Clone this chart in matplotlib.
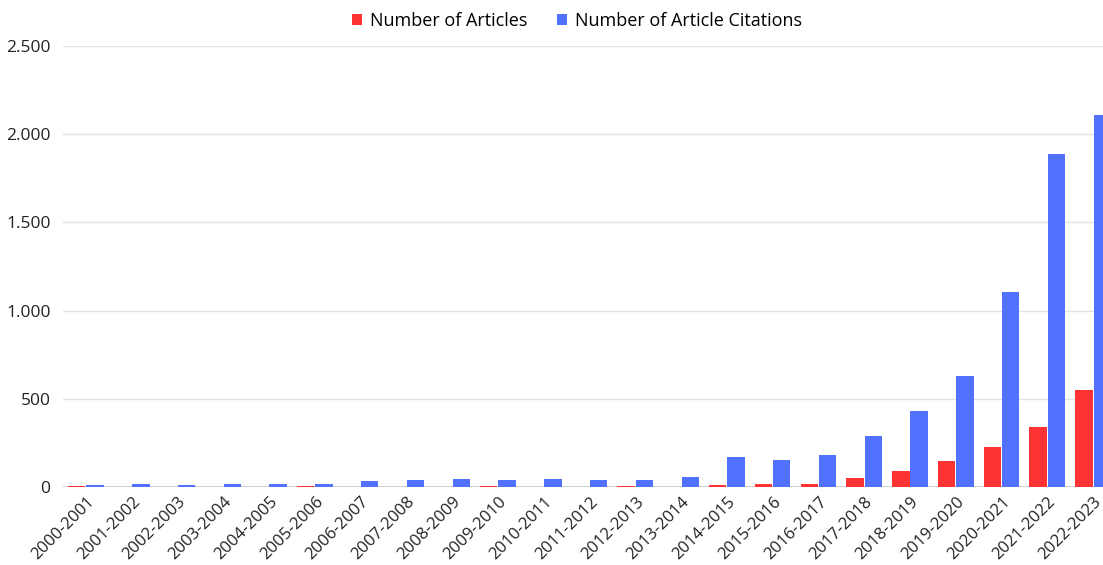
import matplotlib.pyplot as plt
import matplotlib.transforms as mtransforms
import numpy as np
from matplotlib.ticker import FuncFormatter

periods = ["2000-2001", "2001-2002", "2002-2003", "2003-2004", "2004-2005", "2005-2006",
           "2006-2007", "2007-2008", "2008-2009", "2009-2010", "2010-2011", "2011-2012",
           "2012-2013", "2013-2014", "2014-2015", "2015-2016", "2016-2017", "2017-2018",
           "2018-2019", "2019-2020", "2020-2021", "2021-2022", "2022-2023"]
articles = [6, 2, 2, 2, 0, 6, 2, 2, 1, 3, 2, 1, 3, 2, 11, 15, 19, 49, 91, 149, 225, 339, 551]
citations = [12, 15, 10, 17, 17, 15, 35, 37, 48, 40, 45, 40, 38, 57, 168, 155, 183, 291,
             432, 628, 1108, 1890, 2110]

red = "#ff3333"
blue = "#5271ff"

plt.rcParams["font.family"] = ["Open Sans", "DejaVu Sans"]

fig = plt.figure(figsize=(11.03, 5.65), dpi=100)
# plot area runs past the right edge of the canvas
ax = fig.add_axes([63 / 1103, 78 / 565, 1053 / 1103, 441 / 565])

x = np.arange(len(periods))
w = 0.38
ax.bar(x - 0.2, articles, w, color=red, label="Number of Articles", zorder=3)
ax.bar(x + 0.2, citations, w, color=blue, label="Number of Article Citations", zorder=3)

ax.set_xlim(-0.5, len(periods) - 0.5)
ax.set_ylim(0, 2500)
ax.set_yticks([0, 500, 1000, 1500, 2000, 2500])
ax.yaxis.set_major_formatter(FuncFormatter(lambda v, _: f"{int(v):,}".replace(",", ".")))
ax.grid(axis="y", color="#e3e3e3", linewidth=1, zorder=0)
ax.axhline(0, color="#c8c8c8", linewidth=1.2, zorder=2)

for s in ax.spines.values():
    s.set_visible(False)
ax.tick_params(axis="both", length=0, labelsize=12.5, colors="#222222")
ax.tick_params(axis="y", pad=9)
ax.set_xticks(x)
ax.set_xticklabels(periods, rotation=45, ha="right", va="center", rotation_mode="anchor")
ax.tick_params(axis="x", pad=9, labelsize=12)
shift = mtransforms.ScaledTranslation(6 / 100, 0, fig.dpi_scale_trans)
for lab in ax.get_xticklabels():
    lab.set_transform(lab.get_transform() + shift)

fig.legend(loc="center", bbox_to_anchor=(577 / 1103, 1 - 21 / 565), ncol=2, frameon=False,
           fontsize=13, handlelength=0.55, handleheight=0.55, handletextpad=0.45,
           columnspacing=1.6)

fig.savefig("out.png", dpi=100)
